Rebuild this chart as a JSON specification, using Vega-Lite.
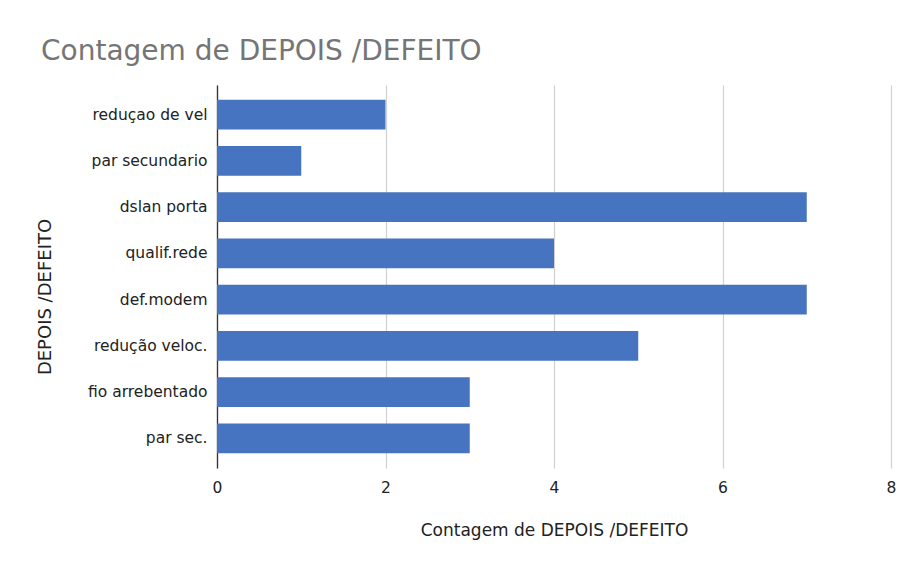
{
  "$schema": "https://vega.github.io/schema/vega-lite/v6.json",
  "autosize": {"type": "none"},
  "padding": {"left": 217, "top": 85, "right": 18, "bottom": 102},
  "width": 674,
  "height": 383,
  "background": "#ffffff",
  "title": {
    "text": "Contagem de DEPOIS /DEFEITO",
    "anchor": "start",
    "frame": "group",
    "orient": "top",
    "baseline": "alphabetic",
    "offset": 25,
    "dx": -176,
    "dy": 28,
    "font": "DejaVu Sans",
    "fontSize": 28,
    "fontWeight": "normal",
    "color": "#757575"
  },
  "data": {
    "values": [
      {"defeito": "reduçao de vel", "contagem": 2},
      {"defeito": "par secundario", "contagem": 1},
      {"defeito": "dslan porta", "contagem": 7},
      {"defeito": "qualif.rede", "contagem": 4},
      {"defeito": "def.modem", "contagem": 7},
      {"defeito": "redução veloc.", "contagem": 5},
      {"defeito": "fio arrebentado", "contagem": 3},
      {"defeito": "par sec.", "contagem": 3}
    ]
  },
  "mark": {"type": "bar", "color": "#4674c1"},
  "encoding": {
    "y": {
      "field": "defeito",
      "type": "nominal",
      "sort": null,
      "scale": {"paddingInner": 0.362, "paddingOuter": 0.3215},
      "axis": {
        "title": "DEPOIS /DEFEITO",
        "titleFont": "DejaVu Sans",
        "titleFontSize": 18,
        "titleFontWeight": "normal",
        "titleColor": "#222222",
        "titleAngle": -90,
        "titleX": -171.5,
        "titleY": 211.5,
        "titleAlign": "center",
        "titleBaseline": "middle",
        "labelFont": "DejaVu Sans",
        "labelFontSize": 15.5,
        "labelColor": "#222222",
        "labelPadding": 10,
        "ticks": false,
        "tickSize": 0,
        "grid": false,
        "domain": true,
        "domainColor": "#333333",
        "domainWidth": 1.3
      }
    },
    "x": {
      "field": "contagem",
      "type": "quantitative",
      "scale": {"domain": [0, 8], "nice": false},
      "axis": {
        "title": "Contagem de DEPOIS /DEFEITO",
        "titleFont": "DejaVu Sans",
        "titleFontSize": 17,
        "titleFontWeight": "normal",
        "titleColor": "#222222",
        "titleY": 62.5,
        "titleBaseline": "middle",
        "values": [0, 2, 4, 6, 8],
        "labelFont": "DejaVu Sans",
        "labelFontSize": 15.5,
        "labelColor": "#222222",
        "labelBaseline": "middle",
        "labelPadding": 19,
        "labelFlush": false,
        "labelOverlap": false,
        "ticks": false,
        "tickSize": 0,
        "domain": false,
        "grid": true,
        "gridColor": "#d0d0d0",
        "gridWidth": 1.2
      }
    }
  },
  "config": {"view": {"stroke": null}}
}
